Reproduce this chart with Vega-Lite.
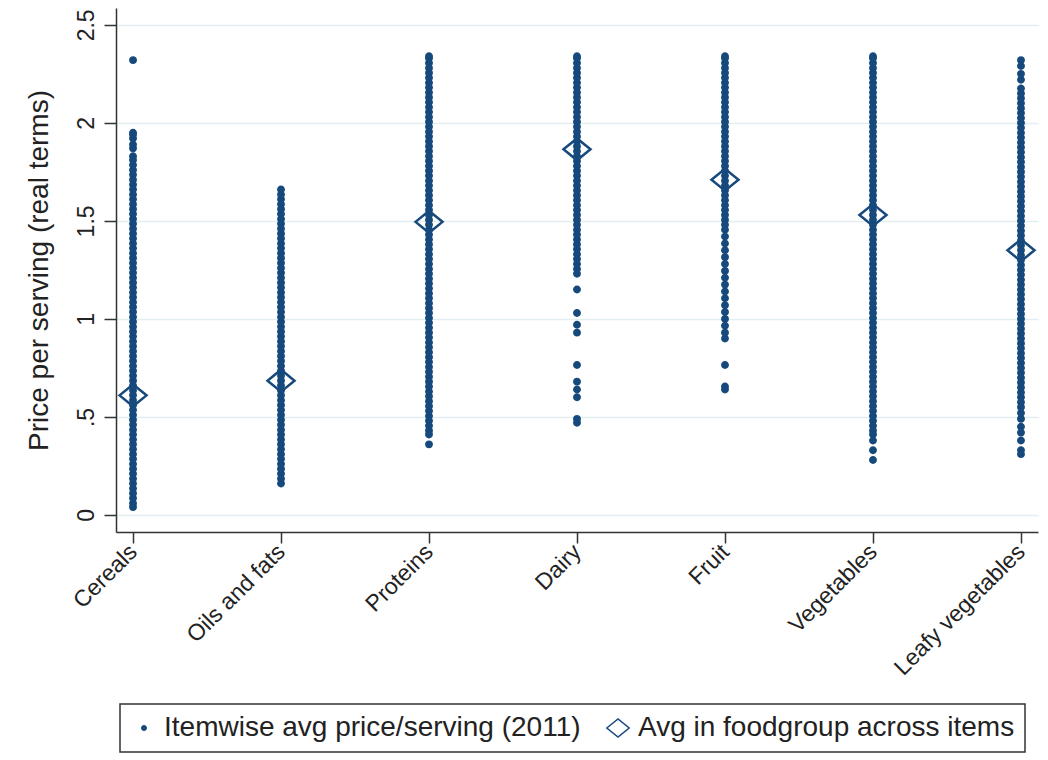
{
  "$schema": "https://vega.github.io/schema/vega-lite/v6.json",
  "autosize": {"type": "none"},
  "padding": {"left": 116, "top": 8, "right": 10, "bottom": 228},
  "width": 922,
  "height": 524,
  "background": "white",
  "config": {
    "view": {"stroke": null},
    "font": "Liberation Sans",
    "legend": {"strokeWidth": 1.5}
  },
  "datasets": {
    "pts": [
      {"g":"Cereals","p":0.04,"s":"item"},{"g":"Cereals","p":0.06,"s":"item"},{"g":"Cereals","p":0.085,"s":"item"},{"g":"Cereals","p":0.11,"s":"item"},{"g":"Cereals","p":0.135,"s":"item"},{"g":"Cereals","p":0.16,"s":"item"},{"g":"Cereals","p":0.185,"s":"item"},{"g":"Cereals","p":0.21,"s":"item"},{"g":"Cereals","p":0.235,"s":"item"},{"g":"Cereals","p":0.26,"s":"item"},{"g":"Cereals","p":0.285,"s":"item"},{"g":"Cereals","p":0.31,"s":"item"},{"g":"Cereals","p":0.335,"s":"item"},{"g":"Cereals","p":0.36,"s":"item"},{"g":"Cereals","p":0.385,"s":"item"},{"g":"Cereals","p":0.41,"s":"item"},{"g":"Cereals","p":0.435,"s":"item"},{"g":"Cereals","p":0.46,"s":"item"},{"g":"Cereals","p":0.485,"s":"item"},{"g":"Cereals","p":0.51,"s":"item"},{"g":"Cereals","p":0.535,"s":"item"},{"g":"Cereals","p":0.56,"s":"item"},{"g":"Cereals","p":0.585,"s":"item"},{"g":"Cereals","p":0.61,"s":"item"},{"g":"Cereals","p":0.635,"s":"item"},{"g":"Cereals","p":0.66,"s":"item"},{"g":"Cereals","p":0.685,"s":"item"},{"g":"Cereals","p":0.71,"s":"item"},{"g":"Cereals","p":0.735,"s":"item"},{"g":"Cereals","p":0.76,"s":"item"},{"g":"Cereals","p":0.785,"s":"item"},{"g":"Cereals","p":0.81,"s":"item"},{"g":"Cereals","p":0.835,"s":"item"},{"g":"Cereals","p":0.86,"s":"item"},{"g":"Cereals","p":0.885,"s":"item"},{"g":"Cereals","p":0.91,"s":"item"},{"g":"Cereals","p":0.935,"s":"item"},{"g":"Cereals","p":0.96,"s":"item"},{"g":"Cereals","p":0.985,"s":"item"},{"g":"Cereals","p":1.01,"s":"item"},{"g":"Cereals","p":1.035,"s":"item"},{"g":"Cereals","p":1.06,"s":"item"},{"g":"Cereals","p":1.085,"s":"item"},{"g":"Cereals","p":1.11,"s":"item"},{"g":"Cereals","p":1.135,"s":"item"},{"g":"Cereals","p":1.16,"s":"item"},{"g":"Cereals","p":1.185,"s":"item"},{"g":"Cereals","p":1.21,"s":"item"},{"g":"Cereals","p":1.235,"s":"item"},{"g":"Cereals","p":1.26,"s":"item"},{"g":"Cereals","p":1.285,"s":"item"},{"g":"Cereals","p":1.31,"s":"item"},{"g":"Cereals","p":1.335,"s":"item"},{"g":"Cereals","p":1.36,"s":"item"},{"g":"Cereals","p":1.385,"s":"item"},{"g":"Cereals","p":1.41,"s":"item"},{"g":"Cereals","p":1.435,"s":"item"},{"g":"Cereals","p":1.46,"s":"item"},{"g":"Cereals","p":1.485,"s":"item"},{"g":"Cereals","p":1.51,"s":"item"},{"g":"Cereals","p":1.535,"s":"item"},{"g":"Cereals","p":1.56,"s":"item"},{"g":"Cereals","p":1.585,"s":"item"},{"g":"Cereals","p":1.61,"s":"item"},{"g":"Cereals","p":1.635,"s":"item"},{"g":"Cereals","p":1.66,"s":"item"},{"g":"Cereals","p":1.685,"s":"item"},{"g":"Cereals","p":1.71,"s":"item"},{"g":"Cereals","p":1.735,"s":"item"},{"g":"Cereals","p":1.76,"s":"item"},{"g":"Cereals","p":1.785,"s":"item"},{"g":"Cereals","p":1.81,"s":"item"},{"g":"Cereals","p":1.83,"s":"item"},{"g":"Cereals","p":1.87,"s":"item"},{"g":"Cereals","p":1.89,"s":"item"},{"g":"Cereals","p":1.92,"s":"item"},{"g":"Cereals","p":1.94,"s":"item"},{"g":"Cereals","p":1.95,"s":"item"},{"g":"Cereals","p":2.32,"s":"item"},
      {"g":"Oils and fats","p":0.16,"s":"item"},{"g":"Oils and fats","p":0.185,"s":"item"},{"g":"Oils and fats","p":0.21,"s":"item"},{"g":"Oils and fats","p":0.235,"s":"item"},{"g":"Oils and fats","p":0.26,"s":"item"},{"g":"Oils and fats","p":0.285,"s":"item"},{"g":"Oils and fats","p":0.31,"s":"item"},{"g":"Oils and fats","p":0.335,"s":"item"},{"g":"Oils and fats","p":0.36,"s":"item"},{"g":"Oils and fats","p":0.385,"s":"item"},{"g":"Oils and fats","p":0.41,"s":"item"},{"g":"Oils and fats","p":0.435,"s":"item"},{"g":"Oils and fats","p":0.46,"s":"item"},{"g":"Oils and fats","p":0.485,"s":"item"},{"g":"Oils and fats","p":0.51,"s":"item"},{"g":"Oils and fats","p":0.535,"s":"item"},{"g":"Oils and fats","p":0.56,"s":"item"},{"g":"Oils and fats","p":0.585,"s":"item"},{"g":"Oils and fats","p":0.61,"s":"item"},{"g":"Oils and fats","p":0.635,"s":"item"},{"g":"Oils and fats","p":0.66,"s":"item"},{"g":"Oils and fats","p":0.685,"s":"item"},{"g":"Oils and fats","p":0.71,"s":"item"},{"g":"Oils and fats","p":0.735,"s":"item"},{"g":"Oils and fats","p":0.76,"s":"item"},{"g":"Oils and fats","p":0.785,"s":"item"},{"g":"Oils and fats","p":0.81,"s":"item"},{"g":"Oils and fats","p":0.835,"s":"item"},{"g":"Oils and fats","p":0.86,"s":"item"},{"g":"Oils and fats","p":0.885,"s":"item"},{"g":"Oils and fats","p":0.91,"s":"item"},{"g":"Oils and fats","p":0.935,"s":"item"},{"g":"Oils and fats","p":0.96,"s":"item"},{"g":"Oils and fats","p":0.985,"s":"item"},{"g":"Oils and fats","p":1.01,"s":"item"},{"g":"Oils and fats","p":1.035,"s":"item"},{"g":"Oils and fats","p":1.06,"s":"item"},{"g":"Oils and fats","p":1.085,"s":"item"},{"g":"Oils and fats","p":1.11,"s":"item"},{"g":"Oils and fats","p":1.135,"s":"item"},{"g":"Oils and fats","p":1.16,"s":"item"},{"g":"Oils and fats","p":1.185,"s":"item"},{"g":"Oils and fats","p":1.21,"s":"item"},{"g":"Oils and fats","p":1.235,"s":"item"},{"g":"Oils and fats","p":1.26,"s":"item"},{"g":"Oils and fats","p":1.285,"s":"item"},{"g":"Oils and fats","p":1.31,"s":"item"},{"g":"Oils and fats","p":1.335,"s":"item"},{"g":"Oils and fats","p":1.36,"s":"item"},{"g":"Oils and fats","p":1.385,"s":"item"},{"g":"Oils and fats","p":1.41,"s":"item"},{"g":"Oils and fats","p":1.435,"s":"item"},{"g":"Oils and fats","p":1.46,"s":"item"},{"g":"Oils and fats","p":1.485,"s":"item"},{"g":"Oils and fats","p":1.51,"s":"item"},{"g":"Oils and fats","p":1.535,"s":"item"},{"g":"Oils and fats","p":1.56,"s":"item"},{"g":"Oils and fats","p":1.585,"s":"item"},{"g":"Oils and fats","p":1.61,"s":"item"},{"g":"Oils and fats","p":1.635,"s":"item"},{"g":"Oils and fats","p":1.66,"s":"item"},
      {"g":"Proteins","p":0.36,"s":"item"},{"g":"Proteins","p":0.41,"s":"item"},{"g":"Proteins","p":0.43,"s":"item"},{"g":"Proteins","p":0.455,"s":"item"},{"g":"Proteins","p":0.48,"s":"item"},{"g":"Proteins","p":0.505,"s":"item"},{"g":"Proteins","p":0.53,"s":"item"},{"g":"Proteins","p":0.555,"s":"item"},{"g":"Proteins","p":0.58,"s":"item"},{"g":"Proteins","p":0.605,"s":"item"},{"g":"Proteins","p":0.63,"s":"item"},{"g":"Proteins","p":0.655,"s":"item"},{"g":"Proteins","p":0.68,"s":"item"},{"g":"Proteins","p":0.705,"s":"item"},{"g":"Proteins","p":0.73,"s":"item"},{"g":"Proteins","p":0.755,"s":"item"},{"g":"Proteins","p":0.78,"s":"item"},{"g":"Proteins","p":0.805,"s":"item"},{"g":"Proteins","p":0.83,"s":"item"},{"g":"Proteins","p":0.855,"s":"item"},{"g":"Proteins","p":0.88,"s":"item"},{"g":"Proteins","p":0.905,"s":"item"},{"g":"Proteins","p":0.93,"s":"item"},{"g":"Proteins","p":0.955,"s":"item"},{"g":"Proteins","p":0.98,"s":"item"},{"g":"Proteins","p":1.005,"s":"item"},{"g":"Proteins","p":1.03,"s":"item"},{"g":"Proteins","p":1.055,"s":"item"},{"g":"Proteins","p":1.08,"s":"item"},{"g":"Proteins","p":1.105,"s":"item"},{"g":"Proteins","p":1.13,"s":"item"},{"g":"Proteins","p":1.155,"s":"item"},{"g":"Proteins","p":1.18,"s":"item"},{"g":"Proteins","p":1.205,"s":"item"},{"g":"Proteins","p":1.23,"s":"item"},{"g":"Proteins","p":1.255,"s":"item"},{"g":"Proteins","p":1.28,"s":"item"},{"g":"Proteins","p":1.305,"s":"item"},{"g":"Proteins","p":1.33,"s":"item"},{"g":"Proteins","p":1.355,"s":"item"},{"g":"Proteins","p":1.38,"s":"item"},{"g":"Proteins","p":1.405,"s":"item"},{"g":"Proteins","p":1.43,"s":"item"},{"g":"Proteins","p":1.455,"s":"item"},{"g":"Proteins","p":1.48,"s":"item"},{"g":"Proteins","p":1.505,"s":"item"},{"g":"Proteins","p":1.53,"s":"item"},{"g":"Proteins","p":1.555,"s":"item"},{"g":"Proteins","p":1.58,"s":"item"},{"g":"Proteins","p":1.605,"s":"item"},{"g":"Proteins","p":1.63,"s":"item"},{"g":"Proteins","p":1.655,"s":"item"},{"g":"Proteins","p":1.68,"s":"item"},{"g":"Proteins","p":1.705,"s":"item"},{"g":"Proteins","p":1.73,"s":"item"},{"g":"Proteins","p":1.755,"s":"item"},{"g":"Proteins","p":1.78,"s":"item"},{"g":"Proteins","p":1.805,"s":"item"},{"g":"Proteins","p":1.83,"s":"item"},{"g":"Proteins","p":1.855,"s":"item"},{"g":"Proteins","p":1.88,"s":"item"},{"g":"Proteins","p":1.905,"s":"item"},{"g":"Proteins","p":1.93,"s":"item"},{"g":"Proteins","p":1.955,"s":"item"},{"g":"Proteins","p":1.98,"s":"item"},{"g":"Proteins","p":2.005,"s":"item"},{"g":"Proteins","p":2.03,"s":"item"},{"g":"Proteins","p":2.055,"s":"item"},{"g":"Proteins","p":2.08,"s":"item"},{"g":"Proteins","p":2.105,"s":"item"},{"g":"Proteins","p":2.13,"s":"item"},{"g":"Proteins","p":2.155,"s":"item"},{"g":"Proteins","p":2.18,"s":"item"},{"g":"Proteins","p":2.205,"s":"item"},{"g":"Proteins","p":2.23,"s":"item"},{"g":"Proteins","p":2.255,"s":"item"},{"g":"Proteins","p":2.28,"s":"item"},{"g":"Proteins","p":2.305,"s":"item"},{"g":"Proteins","p":2.33,"s":"item"},{"g":"Proteins","p":2.34,"s":"item"},
      {"g":"Dairy","p":0.47,"s":"item"},{"g":"Dairy","p":0.49,"s":"item"},{"g":"Dairy","p":0.6,"s":"item"},{"g":"Dairy","p":0.64,"s":"item"},{"g":"Dairy","p":0.68,"s":"item"},{"g":"Dairy","p":0.765,"s":"item"},{"g":"Dairy","p":0.93,"s":"item"},{"g":"Dairy","p":0.97,"s":"item"},{"g":"Dairy","p":1.03,"s":"item"},{"g":"Dairy","p":1.15,"s":"item"},{"g":"Dairy","p":1.23,"s":"item"},{"g":"Dairy","p":1.255,"s":"item"},{"g":"Dairy","p":1.28,"s":"item"},{"g":"Dairy","p":1.305,"s":"item"},{"g":"Dairy","p":1.33,"s":"item"},{"g":"Dairy","p":1.355,"s":"item"},{"g":"Dairy","p":1.38,"s":"item"},{"g":"Dairy","p":1.405,"s":"item"},{"g":"Dairy","p":1.43,"s":"item"},{"g":"Dairy","p":1.455,"s":"item"},{"g":"Dairy","p":1.48,"s":"item"},{"g":"Dairy","p":1.505,"s":"item"},{"g":"Dairy","p":1.53,"s":"item"},{"g":"Dairy","p":1.555,"s":"item"},{"g":"Dairy","p":1.58,"s":"item"},{"g":"Dairy","p":1.605,"s":"item"},{"g":"Dairy","p":1.63,"s":"item"},{"g":"Dairy","p":1.655,"s":"item"},{"g":"Dairy","p":1.68,"s":"item"},{"g":"Dairy","p":1.705,"s":"item"},{"g":"Dairy","p":1.73,"s":"item"},{"g":"Dairy","p":1.755,"s":"item"},{"g":"Dairy","p":1.78,"s":"item"},{"g":"Dairy","p":1.805,"s":"item"},{"g":"Dairy","p":1.83,"s":"item"},{"g":"Dairy","p":1.855,"s":"item"},{"g":"Dairy","p":1.88,"s":"item"},{"g":"Dairy","p":1.905,"s":"item"},{"g":"Dairy","p":1.93,"s":"item"},{"g":"Dairy","p":1.955,"s":"item"},{"g":"Dairy","p":1.98,"s":"item"},{"g":"Dairy","p":2.005,"s":"item"},{"g":"Dairy","p":2.03,"s":"item"},{"g":"Dairy","p":2.055,"s":"item"},{"g":"Dairy","p":2.08,"s":"item"},{"g":"Dairy","p":2.105,"s":"item"},{"g":"Dairy","p":2.13,"s":"item"},{"g":"Dairy","p":2.155,"s":"item"},{"g":"Dairy","p":2.18,"s":"item"},{"g":"Dairy","p":2.205,"s":"item"},{"g":"Dairy","p":2.23,"s":"item"},{"g":"Dairy","p":2.255,"s":"item"},{"g":"Dairy","p":2.28,"s":"item"},{"g":"Dairy","p":2.305,"s":"item"},{"g":"Dairy","p":2.33,"s":"item"},{"g":"Dairy","p":2.34,"s":"item"},
      {"g":"Fruit","p":0.64,"s":"item"},{"g":"Fruit","p":0.655,"s":"item"},{"g":"Fruit","p":0.765,"s":"item"},{"g":"Fruit","p":0.9,"s":"item"},{"g":"Fruit","p":0.93,"s":"item"},{"g":"Fruit","p":0.965,"s":"item"},{"g":"Fruit","p":1.0,"s":"item"},{"g":"Fruit","p":1.035,"s":"item"},{"g":"Fruit","p":1.07,"s":"item"},{"g":"Fruit","p":1.105,"s":"item"},{"g":"Fruit","p":1.14,"s":"item"},{"g":"Fruit","p":1.175,"s":"item"},{"g":"Fruit","p":1.21,"s":"item"},{"g":"Fruit","p":1.245,"s":"item"},{"g":"Fruit","p":1.28,"s":"item"},{"g":"Fruit","p":1.315,"s":"item"},{"g":"Fruit","p":1.35,"s":"item"},{"g":"Fruit","p":1.385,"s":"item"},{"g":"Fruit","p":1.42,"s":"item"},{"g":"Fruit","p":1.455,"s":"item"},{"g":"Fruit","p":1.48,"s":"item"},{"g":"Fruit","p":1.505,"s":"item"},{"g":"Fruit","p":1.53,"s":"item"},{"g":"Fruit","p":1.555,"s":"item"},{"g":"Fruit","p":1.58,"s":"item"},{"g":"Fruit","p":1.605,"s":"item"},{"g":"Fruit","p":1.63,"s":"item"},{"g":"Fruit","p":1.655,"s":"item"},{"g":"Fruit","p":1.68,"s":"item"},{"g":"Fruit","p":1.705,"s":"item"},{"g":"Fruit","p":1.73,"s":"item"},{"g":"Fruit","p":1.755,"s":"item"},{"g":"Fruit","p":1.78,"s":"item"},{"g":"Fruit","p":1.805,"s":"item"},{"g":"Fruit","p":1.83,"s":"item"},{"g":"Fruit","p":1.855,"s":"item"},{"g":"Fruit","p":1.88,"s":"item"},{"g":"Fruit","p":1.905,"s":"item"},{"g":"Fruit","p":1.93,"s":"item"},{"g":"Fruit","p":1.955,"s":"item"},{"g":"Fruit","p":1.98,"s":"item"},{"g":"Fruit","p":2.005,"s":"item"},{"g":"Fruit","p":2.03,"s":"item"},{"g":"Fruit","p":2.055,"s":"item"},{"g":"Fruit","p":2.08,"s":"item"},{"g":"Fruit","p":2.105,"s":"item"},{"g":"Fruit","p":2.13,"s":"item"},{"g":"Fruit","p":2.155,"s":"item"},{"g":"Fruit","p":2.18,"s":"item"},{"g":"Fruit","p":2.205,"s":"item"},{"g":"Fruit","p":2.23,"s":"item"},{"g":"Fruit","p":2.255,"s":"item"},{"g":"Fruit","p":2.28,"s":"item"},{"g":"Fruit","p":2.305,"s":"item"},{"g":"Fruit","p":2.33,"s":"item"},{"g":"Fruit","p":2.34,"s":"item"},
      {"g":"Vegetables","p":0.28,"s":"item"},{"g":"Vegetables","p":0.33,"s":"item"},{"g":"Vegetables","p":0.38,"s":"item"},{"g":"Vegetables","p":0.41,"s":"item"},{"g":"Vegetables","p":0.43,"s":"item"},{"g":"Vegetables","p":0.455,"s":"item"},{"g":"Vegetables","p":0.48,"s":"item"},{"g":"Vegetables","p":0.505,"s":"item"},{"g":"Vegetables","p":0.53,"s":"item"},{"g":"Vegetables","p":0.555,"s":"item"},{"g":"Vegetables","p":0.58,"s":"item"},{"g":"Vegetables","p":0.605,"s":"item"},{"g":"Vegetables","p":0.63,"s":"item"},{"g":"Vegetables","p":0.655,"s":"item"},{"g":"Vegetables","p":0.68,"s":"item"},{"g":"Vegetables","p":0.705,"s":"item"},{"g":"Vegetables","p":0.73,"s":"item"},{"g":"Vegetables","p":0.755,"s":"item"},{"g":"Vegetables","p":0.78,"s":"item"},{"g":"Vegetables","p":0.805,"s":"item"},{"g":"Vegetables","p":0.83,"s":"item"},{"g":"Vegetables","p":0.855,"s":"item"},{"g":"Vegetables","p":0.88,"s":"item"},{"g":"Vegetables","p":0.905,"s":"item"},{"g":"Vegetables","p":0.93,"s":"item"},{"g":"Vegetables","p":0.955,"s":"item"},{"g":"Vegetables","p":0.98,"s":"item"},{"g":"Vegetables","p":1.005,"s":"item"},{"g":"Vegetables","p":1.03,"s":"item"},{"g":"Vegetables","p":1.055,"s":"item"},{"g":"Vegetables","p":1.08,"s":"item"},{"g":"Vegetables","p":1.105,"s":"item"},{"g":"Vegetables","p":1.13,"s":"item"},{"g":"Vegetables","p":1.155,"s":"item"},{"g":"Vegetables","p":1.18,"s":"item"},{"g":"Vegetables","p":1.205,"s":"item"},{"g":"Vegetables","p":1.23,"s":"item"},{"g":"Vegetables","p":1.255,"s":"item"},{"g":"Vegetables","p":1.28,"s":"item"},{"g":"Vegetables","p":1.305,"s":"item"},{"g":"Vegetables","p":1.33,"s":"item"},{"g":"Vegetables","p":1.355,"s":"item"},{"g":"Vegetables","p":1.38,"s":"item"},{"g":"Vegetables","p":1.405,"s":"item"},{"g":"Vegetables","p":1.43,"s":"item"},{"g":"Vegetables","p":1.455,"s":"item"},{"g":"Vegetables","p":1.48,"s":"item"},{"g":"Vegetables","p":1.505,"s":"item"},{"g":"Vegetables","p":1.53,"s":"item"},{"g":"Vegetables","p":1.555,"s":"item"},{"g":"Vegetables","p":1.58,"s":"item"},{"g":"Vegetables","p":1.605,"s":"item"},{"g":"Vegetables","p":1.63,"s":"item"},{"g":"Vegetables","p":1.655,"s":"item"},{"g":"Vegetables","p":1.68,"s":"item"},{"g":"Vegetables","p":1.705,"s":"item"},{"g":"Vegetables","p":1.73,"s":"item"},{"g":"Vegetables","p":1.755,"s":"item"},{"g":"Vegetables","p":1.78,"s":"item"},{"g":"Vegetables","p":1.805,"s":"item"},{"g":"Vegetables","p":1.83,"s":"item"},{"g":"Vegetables","p":1.855,"s":"item"},{"g":"Vegetables","p":1.88,"s":"item"},{"g":"Vegetables","p":1.905,"s":"item"},{"g":"Vegetables","p":1.93,"s":"item"},{"g":"Vegetables","p":1.955,"s":"item"},{"g":"Vegetables","p":1.98,"s":"item"},{"g":"Vegetables","p":2.005,"s":"item"},{"g":"Vegetables","p":2.03,"s":"item"},{"g":"Vegetables","p":2.055,"s":"item"},{"g":"Vegetables","p":2.08,"s":"item"},{"g":"Vegetables","p":2.105,"s":"item"},{"g":"Vegetables","p":2.13,"s":"item"},{"g":"Vegetables","p":2.155,"s":"item"},{"g":"Vegetables","p":2.18,"s":"item"},{"g":"Vegetables","p":2.205,"s":"item"},{"g":"Vegetables","p":2.23,"s":"item"},{"g":"Vegetables","p":2.255,"s":"item"},{"g":"Vegetables","p":2.28,"s":"item"},{"g":"Vegetables","p":2.305,"s":"item"},{"g":"Vegetables","p":2.33,"s":"item"},{"g":"Vegetables","p":2.34,"s":"item"},
      {"g":"Leafy vegetables","p":0.31,"s":"item"},{"g":"Leafy vegetables","p":0.33,"s":"item"},{"g":"Leafy vegetables","p":0.38,"s":"item"},{"g":"Leafy vegetables","p":0.42,"s":"item"},{"g":"Leafy vegetables","p":0.45,"s":"item"},{"g":"Leafy vegetables","p":0.49,"s":"item"},{"g":"Leafy vegetables","p":0.52,"s":"item"},{"g":"Leafy vegetables","p":0.55,"s":"item"},{"g":"Leafy vegetables","p":0.575,"s":"item"},{"g":"Leafy vegetables","p":0.6,"s":"item"},{"g":"Leafy vegetables","p":0.625,"s":"item"},{"g":"Leafy vegetables","p":0.65,"s":"item"},{"g":"Leafy vegetables","p":0.675,"s":"item"},{"g":"Leafy vegetables","p":0.7,"s":"item"},{"g":"Leafy vegetables","p":0.725,"s":"item"},{"g":"Leafy vegetables","p":0.75,"s":"item"},{"g":"Leafy vegetables","p":0.775,"s":"item"},{"g":"Leafy vegetables","p":0.8,"s":"item"},{"g":"Leafy vegetables","p":0.825,"s":"item"},{"g":"Leafy vegetables","p":0.85,"s":"item"},{"g":"Leafy vegetables","p":0.875,"s":"item"},{"g":"Leafy vegetables","p":0.9,"s":"item"},{"g":"Leafy vegetables","p":0.925,"s":"item"},{"g":"Leafy vegetables","p":0.95,"s":"item"},{"g":"Leafy vegetables","p":0.975,"s":"item"},{"g":"Leafy vegetables","p":1.0,"s":"item"},{"g":"Leafy vegetables","p":1.025,"s":"item"},{"g":"Leafy vegetables","p":1.05,"s":"item"},{"g":"Leafy vegetables","p":1.075,"s":"item"},{"g":"Leafy vegetables","p":1.1,"s":"item"},{"g":"Leafy vegetables","p":1.125,"s":"item"},{"g":"Leafy vegetables","p":1.15,"s":"item"},{"g":"Leafy vegetables","p":1.175,"s":"item"},{"g":"Leafy vegetables","p":1.2,"s":"item"},{"g":"Leafy vegetables","p":1.225,"s":"item"},{"g":"Leafy vegetables","p":1.25,"s":"item"},{"g":"Leafy vegetables","p":1.275,"s":"item"},{"g":"Leafy vegetables","p":1.3,"s":"item"},{"g":"Leafy vegetables","p":1.325,"s":"item"},{"g":"Leafy vegetables","p":1.35,"s":"item"},{"g":"Leafy vegetables","p":1.375,"s":"item"},{"g":"Leafy vegetables","p":1.4,"s":"item"},{"g":"Leafy vegetables","p":1.425,"s":"item"},{"g":"Leafy vegetables","p":1.45,"s":"item"},{"g":"Leafy vegetables","p":1.475,"s":"item"},{"g":"Leafy vegetables","p":1.5,"s":"item"},{"g":"Leafy vegetables","p":1.525,"s":"item"},{"g":"Leafy vegetables","p":1.55,"s":"item"},{"g":"Leafy vegetables","p":1.575,"s":"item"},{"g":"Leafy vegetables","p":1.6,"s":"item"},{"g":"Leafy vegetables","p":1.625,"s":"item"},{"g":"Leafy vegetables","p":1.65,"s":"item"},{"g":"Leafy vegetables","p":1.675,"s":"item"},{"g":"Leafy vegetables","p":1.7,"s":"item"},{"g":"Leafy vegetables","p":1.725,"s":"item"},{"g":"Leafy vegetables","p":1.75,"s":"item"},{"g":"Leafy vegetables","p":1.775,"s":"item"},{"g":"Leafy vegetables","p":1.8,"s":"item"},{"g":"Leafy vegetables","p":1.825,"s":"item"},{"g":"Leafy vegetables","p":1.85,"s":"item"},{"g":"Leafy vegetables","p":1.875,"s":"item"},{"g":"Leafy vegetables","p":1.9,"s":"item"},{"g":"Leafy vegetables","p":1.925,"s":"item"},{"g":"Leafy vegetables","p":1.95,"s":"item"},{"g":"Leafy vegetables","p":1.975,"s":"item"},{"g":"Leafy vegetables","p":2.0,"s":"item"},{"g":"Leafy vegetables","p":2.025,"s":"item"},{"g":"Leafy vegetables","p":2.05,"s":"item"},{"g":"Leafy vegetables","p":2.075,"s":"item"},{"g":"Leafy vegetables","p":2.1,"s":"item"},{"g":"Leafy vegetables","p":2.125,"s":"item"},{"g":"Leafy vegetables","p":2.15,"s":"item"},{"g":"Leafy vegetables","p":2.175,"s":"item"},{"g":"Leafy vegetables","p":2.22,"s":"item"},{"g":"Leafy vegetables","p":2.25,"s":"item"},{"g":"Leafy vegetables","p":2.29,"s":"item"},{"g":"Leafy vegetables","p":2.32,"s":"item"},
      {"g":"Cereals","p":0.61,"s":"avg"},
      {"g":"Oils and fats","p":0.685,"s":"avg"},
      {"g":"Proteins","p":1.495,"s":"avg"},
      {"g":"Dairy","p":1.865,"s":"avg"},
      {"g":"Fruit","p":1.71,"s":"avg"},
      {"g":"Vegetables","p":1.53,"s":"avg"},
      {"g":"Leafy vegetables","p":1.35,"s":"avg"}
    ]
  },
  "data": {"name": "pts"},
  "mark": {"type": "point", "filled": false, "stroke": "#16497c", "strokeWidth": 2.5, "opacity": 1, "size": 729},
  "encoding": {
    "x": {
      "field": "g", "type": "nominal",
      "sort": ["Cereals", "Oils and fats", "Proteins", "Dairy", "Fruit", "Vegetables", "Leafy vegetables"],
      "scale": {"type": "point", "padding": 0.115},
      "axis": {
        "title": null, "labelAngle": -45, "labelAlign": "right", "labelBaseline": "middle",
        "labelFontSize": 23, "labelFont": "Liberation Sans", "labelColor": "#222",
        "tickSize": 11, "tickWidth": 1.5, "tickColor": "#333",
        "domainColor": "#333", "domainWidth": 1.5, "grid": false, "labelPadding": 5
      }
    },
    "y": {
      "field": "p", "type": "quantitative",
      "scale": {"domain": [-0.087, 2.586], "nice": false, "zero": false},
      "axis": {
        "title": "Price per serving (real terms)",
        "titleFontSize": 28, "titleFont": "Liberation Sans", "titleFontWeight": "normal", "titleColor": "#222",
        "titlePadding": 22,
        "values": [0, 0.5, 1, 1.5, 2, 2.5], "format": "~g",
        "labelExpr": "datum.value == 0.5 ? '.5' : datum.label",
        "labelAngle": -90, "labelAlign": "center", "labelBaseline": "bottom",
        "labelFontSize": 23, "labelFont": "Liberation Sans", "labelColor": "#222", "labelPadding": 6,
        "tickSize": 12, "tickWidth": 1.5, "tickColor": "#333",
        "domainColor": "#333", "domainWidth": 1.5,
        "grid": true, "gridColor": "#e2eef2", "gridWidth": 1.5
      }
    },
    "shape": {
      "field": "s", "type": "nominal",
      "scale": {"domain": ["item", "avg"], "range": ["M-0.2,0A0.2,0.2 0 1,0 0.2,0A0.2,0.2 0 1,0 -0.2,0Z", "M-1,0L0,-0.81L1,0L0,0.81Z"]},
      "legend": {
        "orient": "none", "legendX": 4, "legendY": 696, "direction": "horizontal", "title": null,
        "labelFontSize": 28, "labelFont": "Liberation Sans", "labelColor": "#222", "labelLimit": 0,
        "labelOffset": 6, "columnPadding": 22, "padding": 10, "strokeColor": "#333",
        "symbolSize": 500,
        "labelExpr": "datum.label == 'item' ? 'Itemwise avg price/serving (2011)' : 'Avg in foodgroup across items'",
        "encode": {"symbols": {"update": {
          "fill": [{"test": "datum.value == 'avg'", "value": "transparent"}, {"value": "#16497c"}],
          "stroke": {"value": "#16497c"}, "strokeWidth": {"value": 2.2}, "opacity": {"value": 1}
        }}}
      }
    },
    "fill": {
      "field": "s", "type": "nominal",
      "scale": {"domain": ["item", "avg"], "range": ["#16497c", "transparent"]},
      "legend": null
    }
  }
}
